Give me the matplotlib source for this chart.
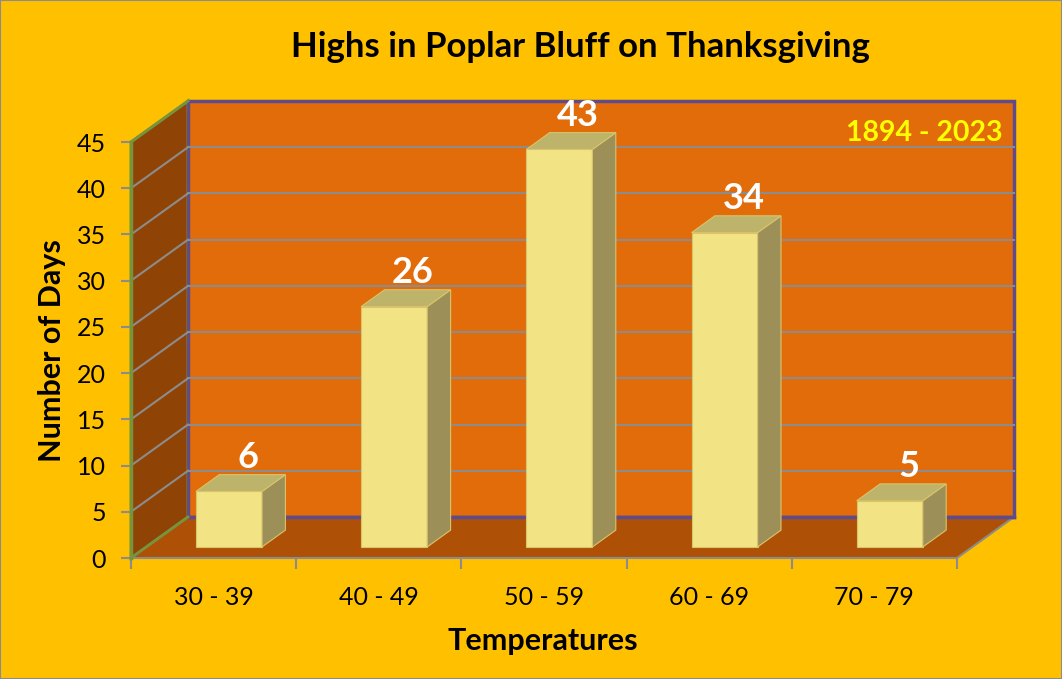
import numpy as np
import matplotlib
matplotlib.use("Agg")
import matplotlib.pyplot as plt
from matplotlib.patches import Polygon, Rectangle

plt.rcParams['font.family'] = ['Lato', 'DejaVu Sans']

# data
categories = ['30 - 39', '40 - 49', '50 - 59', '60 - 69', '70 - 79']
days = [6, 26, 43, 34, 5]
y_ticks = list(range(0, 50, 5))
title = 'Highs in Poplar Bluff on Thanksgiving'
period = '1894 - 2023'

# colours
bg = '#FFC000'
wall = '#E36C0A'
side_wall = '#8F4406'
floor_c = '#AE5107'
grid_c = '#8C8C8C'
frame_c = '#5F4B8B'
axis_green = '#77933C'
bar_front = '#F2E384'
bar_side = '#9C9058'
bar_top = '#BDB36A'

W, H = 1062, 679
fig = plt.figure(figsize=(W / 100, H / 100), dpi=100, facecolor=bg)
# front plane of the 3d box
ax = fig.add_axes([131 / W, (H - 558) / H, 826 / W, 416 / H])
ax.set_xlim(0, len(categories))
ax.set_ylim(0, 45)
ax.patch.set_visible(False)

# depth offset (in data units) of the back wall
DX, DY = 0.345, 4.435


def P(x, v, d):
    return (x + d * DX, v + d * DY)


def face(pts, fc, ec='none', lw=0, z=1):
    ax.add_patch(Polygon(pts, closed=True, facecolor=fc, edgecolor=ec, linewidth=lw,
                         zorder=z, clip_on=False, joinstyle='miter'))


n = len(categories)
top = y_ticks[-1]
# back wall, side wall, floor
face([P(0, 0, 1), P(n, 0, 1), P(n, top, 1), P(0, top, 1)], wall, frame_c, 2.5, 1)
face([P(0, 0, 0), P(0, 0, 1), P(0, top, 1), P(0, top, 0)], side_wall, axis_green, 2.0, 1)
face([P(0, 0, 0), P(n, 0, 0), P(n, 0, 1), P(0, 0, 1)], floor_c, 'none', 0, 1)
ax.plot(*zip(P(n, 0, 0), P(n, 0, 1)), color=grid_c, lw=1.5, clip_on=False, zorder=2)
ax.plot(*zip(P(0, 0, 1), P(n, 0, 1)), color=frame_c, lw=2.5, clip_on=False, zorder=2)
ax.plot(*zip(P(0, 0, 1), P(0, top, 1)), color=frame_c, lw=2.0, clip_on=False, zorder=2)

# gridlines on back and side walls
for v in y_ticks[1:-1]:
    ax.plot(*zip(P(0, v, 1), P(n, v, 1)), color=grid_c, lw=1.5, clip_on=False, zorder=2)
    ax.plot(*zip(P(0, v, 0), P(0, v, 1)), color=grid_c, lw=1.5, clip_on=False, zorder=2)
ax.plot(*zip(P(0, top, 0), P(0, top, 1)), color=axis_green, lw=2.0, clip_on=False, zorder=3)
ax.plot(*zip(P(0, 0, 0), P(0, 0, 1)), color=axis_green, lw=2.0, clip_on=False, zorder=3)

# 3d bars
d0, d1 = 0.27, 0.68
bw = 0.4
for i, v in enumerate(days):
    x0 = i + 0.5 - bw / 2
    x1 = x0 + bw
    ec = '#D9C46A'
    face([P(x0, 0, d0), P(x1, 0, d0), P(x1, v, d0), P(x0, v, d0)], bar_front, ec, 0.8, 4)
    face([P(x1, 0, d0), P(x1, 0, d1), P(x1, v, d1), P(x1, v, d0)], bar_side, ec, 0.8, 4)
    face([P(x0, v, d0), P(x1, v, d0), P(x1, v, d1), P(x0, v, d1)], bar_top, ec, 0.8, 4)
    lx, ly = P(i + 0.5, v, 0.6)
    ax.annotate(str(v), (lx, ly), xytext=(0, 15), textcoords='offset points',
                ha='center', va='center', color='white', fontsize=26, fontweight='bold',
                zorder=6, annotation_clip=False)

# axes
for s in ['top', 'right']:
    ax.spines[s].set_visible(False)
ax.spines['left'].set_color(axis_green)
ax.spines['left'].set_linewidth(2.5)
ax.spines['left'].set_zorder(5)
ax.spines['bottom'].set_color(grid_c)
ax.spines['bottom'].set_linewidth(1.5)
ax.set_yticks(y_ticks)
ax.set_yticklabels([str(t) for t in y_ticks])
ax.tick_params(axis='y', direction='out', length=7, width=1.5, color=grid_c,
               labelsize=18, pad=11)
ax.set_xticks(np.arange(n + 1))
ax.set_xticklabels([])
ax.set_xticks(np.arange(n) + 0.5, minor=True)
ax.set_xticklabels(categories, minor=True)
ax.tick_params(axis='x', which='major', direction='out', length=8, width=1.5, color=grid_c)
ax.tick_params(axis='x', which='minor', length=0, labelsize=18, pad=20)

fig.text(580 / W, 1 - 47 / H, title, ha='center', va='center', fontsize=25, fontweight='bold')
fig.text(52 / W, 1 - 351 / H, 'Number of Days', ha='center', va='center', rotation=90,
         fontsize=22, fontweight='bold')
fig.text(543 / W, 1 - 641 / H, 'Temperatures', ha='center', va='center',
         fontsize=22, fontweight='bold')
fig.text(1003 / W, 1 - 133 / H, period, ha='right', va='center', color='#FFFF00',
         fontsize=20.5, fontweight='bold')

fig.add_artist(Rectangle((0, 0), 1, 1, transform=fig.transFigure, fill=False,
                         edgecolor='#8C8C8C', linewidth=1.5))

fig.savefig('out.png', dpi=100, facecolor=bg)
